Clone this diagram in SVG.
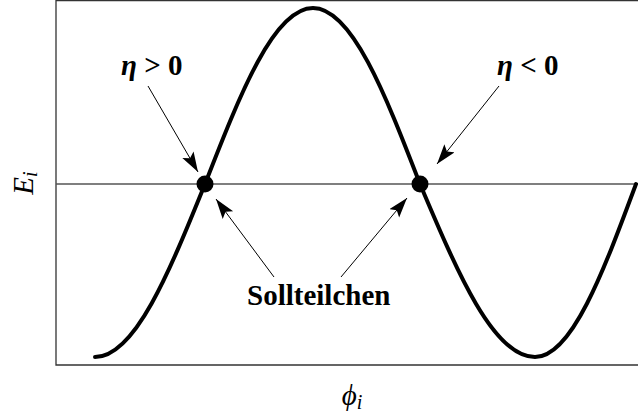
<svg xmlns="http://www.w3.org/2000/svg" width="638" height="417" viewBox="0 0 638 417">
<style>
.frame{stroke:#333;stroke-width:1.3;fill:none}
.axis{stroke:#555;stroke-width:1.3;fill:none}
.curve{stroke:#000;stroke-width:4;fill:none;stroke-linecap:round}
.arr{stroke:#000;stroke-width:1;fill:none;marker-end:url(#ah)}
.lbl{font-family:"Liberation Serif",serif;font-weight:bold;font-size:29px;fill:#000}
.ax{font-family:"Liberation Serif",serif;font-style:italic;font-size:29px;fill:#000}
</style>
<defs>
<marker id="ah" markerUnits="userSpaceOnUse" markerWidth="22" markerHeight="14" refX="20" refY="6.5" orient="auto">
<path d="M0,0 L20,6.5 L0,13 L4,6.5 Z" fill="#000"/>
</marker>
</defs>
<g id="frame">
<path class="frame" d="M56,0.7 H638 M56,0 V365 H638"/>
<line class="axis" x1="56" y1="184" x2="638" y2="184"/>
</g>
<g id="curve">
<path class="curve" d="M95,357 C134.8,357 169.1,272.6 205,184 C240.2,93.8 273.9,8 313,8 C351.7,8 385.1,93.8 420,184 C457.5,272.6 493.4,357 535,357 C571.6,357 603.1,272.6 636,184"/>
</g>
<g id="dot1"><circle cx="205" cy="184" r="8.5" fill="#000"/></g>
<g id="dot2"><circle cx="420" cy="184" r="8.5" fill="#000"/></g>
<g id="label-pos"><text class="lbl" x="121" y="75"><tspan font-style="italic">η</tspan> &gt; 0</text></g>
<g id="label-neg"><text class="lbl" x="497" y="75"><tspan font-style="italic">η</tspan> &lt; 0</text></g>
<g id="label-soll"><text class="lbl" x="247" y="305">Sollteilchen</text></g>
<g id="ylabel"><text class="ax" transform="translate(33,183) rotate(-90)" text-anchor="middle">E<tspan font-size="20" dy="4">i</tspan></text></g>
<g id="xlabel"><text class="ax" x="352" y="405" text-anchor="middle">ϕ<tspan font-size="20" dy="4">i</tspan></text></g>
<g id="connectors">
<line class="arr" x1="148" y1="86" x2="198" y2="172"/>
<line class="arr" x1="499" y1="86" x2="437" y2="164"/>
<line class="arr" x1="274" y1="277" x2="216" y2="199"/>
<line class="arr" x1="341" y1="277" x2="407" y2="198"/>
</g>
</svg>
